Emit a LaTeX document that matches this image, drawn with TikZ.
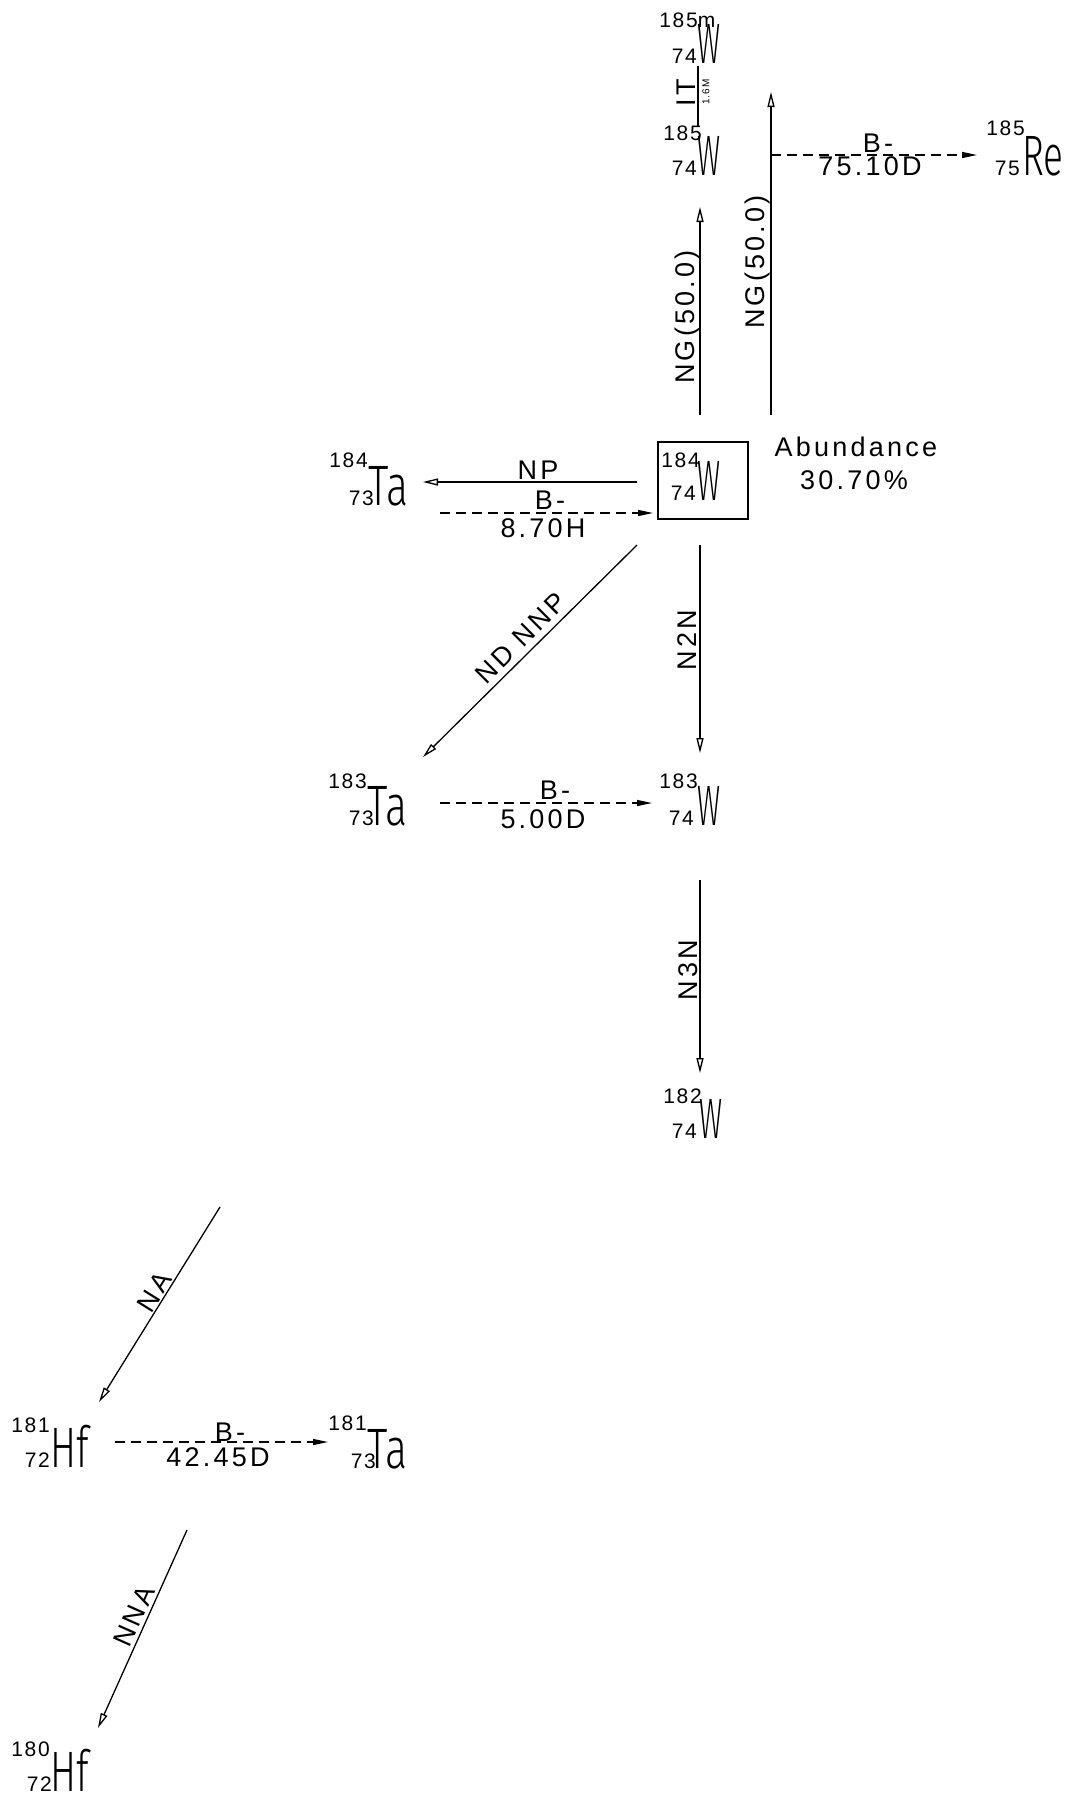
\documentclass[tikz,border=0pt]{standalone}
\usepackage{fontspec}
\usepackage{graphicx}
\usetikzlibrary{arrows.meta}
\newfontfamily\labfont[LetterSpace=12]{Liberation Sans}
\newfontfamily\numfont[LetterSpace=8]{Liberation Sans}
\newfontfamily\symfont{Fira Sans Light}
\tikzset{
  lab/.style={inner sep=0pt, font=\labfont\fontsize{27}{27}\selectfont},
  tiny/.style={inner sep=0pt, font=\labfont\fontsize{10}{10}\selectfont},
  num/.style={inner sep=0pt, font=\numfont\fontsize{21}{21}\selectfont},
  sym/.style={inner sep=0pt, font=\symfont\fontsize{57}{57}\selectfont},
  solidarrow/.style={line width=1.3pt, -{Triangle[open, length=15pt, width=7pt]}},
  dasharrow/.style={line width=1.3pt, dash pattern=on 10pt off 6pt, -{Triangle[length=15pt, width=6pt]}},
  plainline/.style={line width=1.1pt},
  boxstyle/.style={draw, line width=1.3pt, inner sep=0pt, minimum width=90pt, minimum height=77pt},
}
\begin{document}
\begin{tikzpicture}[x=1pt,y=-1pt]
\fill[white] (0,0) rectangle (1074,1800);
\useasboundingbox (0,0) rectangle (1074,1800);

% ---------- nuclides ----------
% W-185m
\node[sym, anchor=base west] (w185m) at (697,63) {\scalebox{0.5}[1]{W}};
\node[num, anchor=base east] (w185mA) at (698,27) {185\rlap{m}};
\node[num, anchor=base east] (w185mZ) at (697,63) {74};
% W-185
\node[sym, anchor=base west] (w185) at (697,175) {\scalebox{0.5}[1]{W}};
\node[num, anchor=base east] (w185A) at (702,140) {185};
\node[num, anchor=base east] (w185Z) at (697,175) {74};
% Re-185
\node[sym, anchor=base west] (re185) at (1022,175) {\scalebox{0.65}[1]{Re}};
\node[num, anchor=base east] (re185A) at (1025,135) {185};
\node[num, anchor=base east] (re185Z) at (1020,175) {75};
% W-184 (boxed)
\node[boxstyle] (box184) at (703,480.5) {};
\node[sym, anchor=base west] (w184) at (697,500) {\scalebox{0.5}[1]{W}};
\node[num, anchor=base east] (w184A) at (700,467) {184};
\node[num, anchor=base east] (w184Z) at (696,500) {74};
% Ta-184
\node[sym, anchor=base west] (ta184) at (368,505) {\scalebox{0.72}[1]{Ta}};
\node[num, anchor=base east] (ta184A) at (368,467) {184};
\node[num, anchor=base east] (ta184Z) at (374,505) {73};
% Ta-183
\node[sym, anchor=base west] (ta183) at (367,825) {\scalebox{0.72}[1]{Ta}};
\node[num, anchor=base east] (ta183A) at (367,788) {183};
\node[num, anchor=base east] (ta183Z) at (374,825) {73};
% W-183
\node[sym, anchor=base west] (w183) at (697,825) {\scalebox{0.5}[1]{W}};
\node[num, anchor=base east] (w183A) at (698,788) {183};
\node[num, anchor=base east] (w183Z) at (694,825) {74};
% W-182
\node[sym, anchor=base west] (w182) at (699,1138) {\scalebox{0.5}[1]{W}};
\node[num, anchor=base east] (w182A) at (702,1103) {182};
\node[num, anchor=base east] (w182Z) at (697,1138) {74};
% Hf-181
\node[sym, anchor=base west] (hf181) at (50,1467) {\scalebox{0.68}[1]{Hf}};
\node[num, anchor=base east] (hf181A) at (50,1432) {181};
\node[num, anchor=base east] (hf181Z) at (50,1467) {72};
% Ta-181
\node[sym, anchor=base west] (ta181) at (367,1468) {\scalebox{0.72}[1]{Ta}};
\node[num, anchor=base east] (ta181A) at (367,1430) {181};
\node[num, anchor=base east] (ta181Z) at (376,1468) {73};
% Hf-180
\node[sym, anchor=base west] (hf180) at (50,1791) {\scalebox{0.68}[1]{Hf}};
\node[num, anchor=base east] (hf180A) at (50,1756) {180};
\node[num, anchor=base east] (hf180Z) at (52,1791) {72};

% abundance
\node[lab] (abund) at (856,447) {Abundance};
\node[lab] (abundv) at (854,480) {30.70\%};

% ---------- connector end points ----------
\coordinate (itA) at (698,66);   \coordinate (itB) at (698,126);
\coordinate (ngLa) at (700,415); \coordinate (ngLb) at (700,207);
\coordinate (ngRa) at (771,415); \coordinate (ngRb) at (771,92);
\coordinate (reA) at (771,155);  \coordinate (reB) at (977,155);
\coordinate (npA) at (637,482);  \coordinate (npB) at (423,482);
\coordinate (bA) at (440,513);   \coordinate (bB) at (653,513);
\coordinate (ndA) at (637,545);  \coordinate (ndB) at (423,757);
\coordinate (n2A) at (700,545);  \coordinate (n2B) at (700,753);
\coordinate (b3A) at (440,803);  \coordinate (b3B) at (652,803);
\coordinate (n3A) at (700,880);  \coordinate (n3B) at (700,1073);
\coordinate (naA) at (220,1207); \coordinate (naB) at (99,1402);
\coordinate (b1A) at (115,1442); \coordinate (b1B) at (328,1442);
\coordinate (nnA) at (187,1530); \coordinate (nnB) at (98,1728);

% ---------- connectors ----------
\draw[plainline] (itA) -- (itB);
\draw[solidarrow] (ngLa) -- (ngLb);
\draw[solidarrow] (ngRa) -- (ngRb);
\draw[dasharrow] (reA) -- (reB);
\draw[solidarrow] (npA) -- (npB);
\draw[dasharrow] (bA) -- (bB);
\draw[solidarrow] (ndA) -- (ndB);
\draw[solidarrow] (n2A) -- (n2B);
\draw[dasharrow] (b3A) -- (b3B);
\draw[solidarrow] (n3A) -- (n3B);
\draw[solidarrow] (naA) -- (naB);
\draw[dasharrow] (b1A) -- (b1B);
\draw[solidarrow] (nnA) -- (nnB);

% ---------- labels ----------
\node[lab, rotate=90] (itlab) at (686,93) {IT};
\node[tiny, rotate=90] (itt) at (706,92) {1.6M};
\node[lab, rotate=90] (nglab) at (688,317) {NG(50.0)};
\node[lab, rotate=90] (ngrlab) at (758,262) {NG(50.0)};
\node[lab] (reb) at (878,143) {B-};
\node[lab] (ret) at (870,166) {75.10D};
\node[lab] (nplab) at (538,470) {NP};
\node[lab] (b84) at (550,500) {B-};
\node[lab] (t84) at (543,528) {8.70H};
\node[lab, rotate=45] (ndlab) at (521,638) {ND NNP};
\node[lab, rotate=90] (n2lab) at (687,640) {N2N};
\node[lab] (b83) at (555,790) {B-};
\node[lab] (t83) at (543,819) {5.00D};
\node[lab, rotate=90] (n3lab) at (688,970) {N3N};
\node[lab, rotate=58] (nalab) at (154,1292) {NA};
\node[lab] (b81) at (230,1432) {B-};
\node[lab] (t81) at (218,1457) {42.45D};
\node[lab, rotate=66] (nnalab) at (134,1616) {NNA};
\end{tikzpicture}
\end{document}
